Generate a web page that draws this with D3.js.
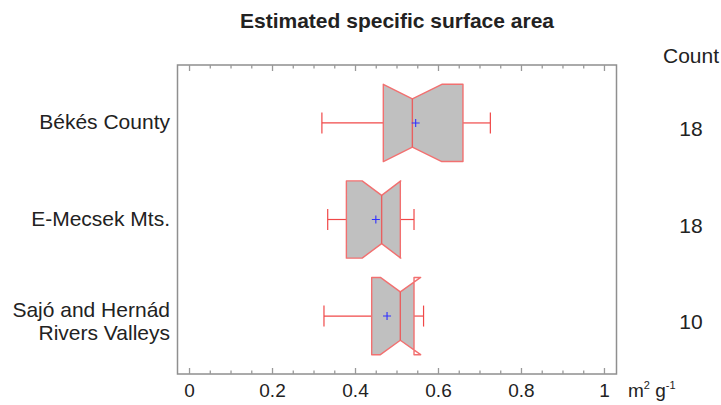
<!DOCTYPE html>
<html>
<head>
<meta charset="utf-8">
<script src="https://cdn.jsdelivr.net/npm/d3@7"></script>
<style>
  body { margin: 0; background: #fff; }
  svg { display: block; font-family: "Liberation Sans", Arial, sans-serif; }
</style>
</head>
<body>
<div id="wrapper"></div>
<script>
// values
const groups = ["Békés County", "E-Mecsek Mts.", "Sajó and Hernád|Rivers Valleys"];
const counts = [18, 18, 10];
const whiskerLow = [0.319, 0.333, 0.324];
const q1 = [0.467, 0.378, 0.439];
const median = [0.537, 0.463, 0.508];
const q3 = [0.659, 0.508, 0.541];
const whiskerHigh = [0.725, 0.541, 0.564];
const means = [0.545, 0.449, 0.476];
const notchLow = [0.467, 0.416, 0.460];
const notchHigh = [0.608, 0.509, 0.557];
const xTickLabels = [0, 0.2, 0.4, 0.6, 0.8, 1];

function buildPlot() {
    var dimension = {
        width: 721,
        height: 405,
        frame: { left: 177.5, right: 616.5, top: 65, bottom: 374 }
    };
    const f = dimension.frame;

    const svg = d3.select("#wrapper").append("svg")
        .attr("width", dimension.width)
        .attr("height", dimension.height);

    const xScaler = d3.scaleLinear()
        .domain([-0.029, 1.029])
        .range([f.left, f.right]);

    const yScaler = d3.scalePoint()
        .domain(groups)
        .range([f.top, f.bottom])
        .padding(0.6);

    const step = yScaler.step();
    const boxH = step * 0.4;
    const notchH = step * 0.25;
    const capH = 10.5;

    // title
    svg.append("text")
        .attr("x", 397).attr("y", 28)
        .attr("text-anchor", "middle")
        .style("font-size", "21px").style("font-weight", "bold")
        .attr("fill", "#222")
        .text("Estimated specific surface area");

    // frame
    svg.append("rect")
        .attr("x", f.left).attr("y", f.top)
        .attr("width", f.right - f.left).attr("height", f.bottom - f.top)
        .attr("fill", "none").attr("stroke", "#8f8f8f").attr("stroke-width", 1.5);

    // inward ticks on top and bottom
    const ticks = xScaler.ticks(20).filter(t => t >= 0 && t <= 1);
    const isMajor = t => Math.abs(t * 5 - Math.round(t * 5)) < 1e-6;
    const tickG = svg.append("g").attr("stroke", "#999").attr("stroke-width", 1.3);
    tickG.selectAll("line.b").data(ticks).join("line")
        .attr("class", "b")
        .attr("x1", d => xScaler(d)).attr("x2", d => xScaler(d))
        .attr("y1", f.bottom).attr("y2", d => f.bottom - (isMajor(d) ? 6 : 3.5));
    tickG.selectAll("line.t").data(ticks).join("line")
        .attr("class", "t")
        .attr("x1", d => xScaler(d)).attr("x2", d => xScaler(d))
        .attr("y1", f.top).attr("y2", d => f.top + (isMajor(d) ? 6 : 3.5));

    // tick labels
    svg.append("g").selectAll("text").data(xTickLabels).join("text")
        .attr("x", d => xScaler(d)).attr("y", 397)
        .attr("text-anchor", "middle")
        .style("font-size", "19px").attr("fill", "#222")
        .text(d => d3.format("~g")(d));

    // unit
    const unit = svg.append("text")
        .attr("x", 628).attr("y", 397)
        .style("font-size", "19px").attr("fill", "#222");
    unit.append("tspan").text("m");
    unit.append("tspan").attr("dy", -8).style("font-size", "11px").text("2");
    unit.append("tspan").attr("dy", 8).text(" g");
    unit.append("tspan").attr("dy", -8).style("font-size", "11px").text("-1");

    // group labels
    groups.forEach((g, i) => {
        const lines = g.split("|");
        const yc = yScaler(g);
        const t = svg.append("text")
            .attr("text-anchor", "end")
            .style("font-size", "21px").attr("fill", "#222");
        lines.forEach((ln, j) => {
            t.append("tspan")
                .attr("x", 170)
                .attr("y", yc + 6.5 - (lines.length - 1) * 5.5 + j * 23)
                .text(ln);
        });
    });

    // count column
    svg.append("text")
        .attr("x", 691).attr("y", 63)
        .attr("text-anchor", "middle")
        .style("font-size", "21px").attr("fill", "#222")
        .text("Count");
    svg.append("g").selectAll("text").data(groups).join("text")
        .attr("x", 691).attr("y", d => yScaler(d) + 13)
        .attr("text-anchor", "middle")
        .style("font-size", "21px").attr("fill", "#222")
        .text((d, i) => counts[i]);

    const lineGenerator = d3.line()
        .x(d => xScaler(d[0]))
        .y(d => d[1]);

    const defs = svg.append("defs");

    groups.forEach((g, i) => {
        const yc = yScaler(g);
        const box = svg.append("g");

        // whiskers
        box.append("line")
            .attr("x1", xScaler(whiskerLow[i])).attr("x2", xScaler(q1[i]))
            .attr("y1", yc).attr("y2", yc);
        box.append("line")
            .attr("x1", xScaler(q3[i])).attr("x2", xScaler(whiskerHigh[i]))
            .attr("y1", yc).attr("y2", yc);
        [whiskerLow[i], whiskerHigh[i]].forEach(v => {
            box.append("line")
                .attr("x1", xScaler(v)).attr("x2", xScaler(v))
                .attr("y1", yc - capH).attr("y2", yc + capH);
        });
        box.selectAll("line").attr("stroke", "#f04848").attr("stroke-width", 1.2);

        const pts = [
            [q1[i], yc - boxH], [notchLow[i], yc - boxH], [median[i], yc - notchH],
            [notchHigh[i], yc - boxH], [q3[i], yc - boxH], [q3[i], yc + boxH],
            [notchHigh[i], yc + boxH], [median[i], yc + notchH], [notchLow[i], yc + boxH],
            [q1[i], yc + boxH]
        ];

        // grey fill only between the quartiles
        defs.append("clipPath").attr("id", "clip" + i)
            .append("rect")
            .attr("x", xScaler(q1[i])).attr("y", yc - boxH)
            .attr("width", xScaler(q3[i]) - xScaler(q1[i])).attr("height", 2 * boxH);
        box.append("path")
            .attr("d", lineGenerator(pts) + "Z")
            .attr("clip-path", "url(#clip" + i + ")")
            .attr("fill", "#c0c0c0").attr("stroke", "none");
        box.append("path")
            .attr("d", lineGenerator(pts) + "Z")
            .attr("fill", "none").attr("stroke", "#f27070").attr("stroke-width", 1.4)
            .attr("stroke-linejoin", "round");

        // median
        box.append("line")
            .attr("x1", xScaler(median[i])).attr("x2", xScaler(median[i]))
            .attr("y1", yc - notchH).attr("y2", yc + notchH)
            .attr("stroke", "#e86060").attr("stroke-width", 1.4);

        // mean marker
        const mx = xScaler(means[i]);
        box.append("path")
            .attr("d", `M${mx - 4},${yc}H${mx + 4}M${mx},${yc - 4}V${yc + 4}`)
            .attr("stroke", "#3030ff").attr("stroke-width", 1.1).attr("fill", "none");
    });
}

buildPlot();
</script>
</body>
</html>
